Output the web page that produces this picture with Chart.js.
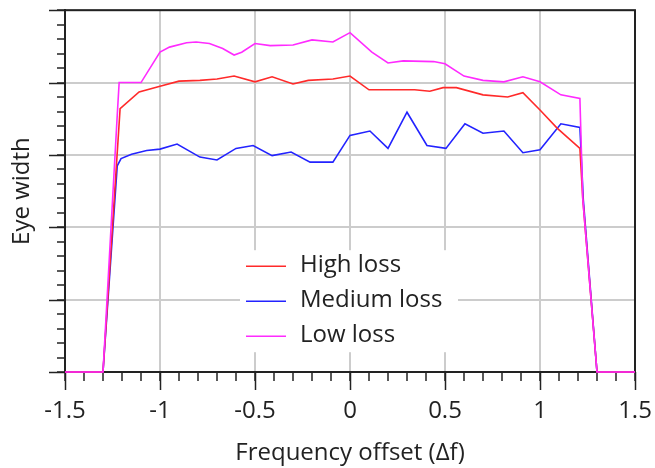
<!DOCTYPE html>
<html>
<head>
<meta charset="utf-8">
<script src="https://cdn.jsdelivr.net/npm/chart.js@4.4.1/dist/chart.umd.min.js"></script>
<style>
	body { margin: 0; background: #fff; }
	#wrap { width: 655px; height: 468px; }
</style>
</head>
<body>
<div id="wrap"><canvas id="eyeChart" width="655" height="468"></canvas></div>
<script>
// values (x = frequency offset, y = eye width, unlabelled units)
const xHigh = [-1.5, -1.3, -1.21, -1.11, -1.0, -0.9, -0.79, -0.7, -0.61, -0.5, -0.41, -0.3, -0.22, -0.09, 0, 0.1, 0.34, 0.42, 0.49, 0.56, 0.7, 0.83, 0.91, 1.0, 1.09, 1.21, 1.225, 1.3, 1.5];
const yHigh = [0, 0, 3.64, 3.87, 3.95, 4.02, 4.03, 4.05, 4.09, 4.01, 4.08, 3.98, 4.03, 4.05, 4.09, 3.9, 3.9, 3.88, 3.93, 3.93, 3.83, 3.8, 3.86, 3.62, 3.37, 3.09, 2.4, 0, 0];

const xMedium = [-1.5, -1.3, -1.225, -1.205, -1.15, -1.07, -1.0, -0.91, -0.79, -0.7, -0.6, -0.51, -0.41, -0.31, -0.21, -0.09, 0, 0.105, 0.2, 0.3, 0.405, 0.505, 0.605, 0.7, 0.81, 0.91, 1.0, 1.11, 1.21, 1.228, 1.3, 1.5];
const yMedium = [0, 0, 2.85, 2.95, 3.01, 3.06, 3.08, 3.15, 2.97, 2.93, 3.09, 3.13, 2.99, 3.04, 2.9, 2.9, 3.27, 3.33, 3.09, 3.59, 3.13, 3.09, 3.43, 3.3, 3.33, 3.03, 3.07, 3.43, 3.38, 2.38, 0, 0];

const xLow = [-1.5, -1.3, -1.225, -1.215, -1.1, -1.0, -0.95, -0.86, -0.81, -0.74, -0.67, -0.61, -0.57, -0.5, -0.42, -0.3, -0.2, -0.09, 0, 0.115, 0.2, 0.28, 0.44, 0.5, 0.6, 0.7, 0.81, 0.91, 1.0, 1.11, 1.21, 1.225, 1.3, 1.5];
const yLow = [0, 0, 3.55, 4.0, 4.0, 4.42, 4.49, 4.55, 4.56, 4.54, 4.47, 4.38, 4.42, 4.54, 4.51, 4.52, 4.59, 4.56, 4.69, 4.42, 4.27, 4.3, 4.29, 4.26, 4.09, 4.03, 4.01, 4.08, 4.01, 3.83, 3.78, 2.4, 0, 0];

const seriesLabels = ['High loss', 'Medium loss', 'Low loss'];
const seriesColors = ['#ff2a2a', '#2323ff', '#ff2bff'];

const xTickStep = 0.1;
const yTickStep = 0.2;

const toPoints = (xs, ys) => xs.map((x, i) => ({ x: x, y: ys[i] }));

const isMajorX = (v) => Math.abs(v * 2 - Math.round(v * 2)) < 1e-6;
const isMajorY = (v) => Math.abs(v - Math.round(v)) < 1e-6;

Chart.defaults.font.family = "'Open Sans', sans-serif";
Chart.defaults.color = '#222';

// long tick marks on the major values + the dark frame round the plot
// (drawn before the lines so the flat zero parts stay on top of the axis)
const framePlugin = {
	id: 'frame',
	beforeDatasetsDraw(chart) {
		const { ctx, chartArea, scales } = chart;
		ctx.save();
		ctx.strokeStyle = '#222';
		ctx.lineWidth = 1.5;
		scales.x.ticks.forEach((t) => {
			if (!isMajorX(t.value)) return;
			const px = Math.round(scales.x.getPixelForValue(t.value)) + 0.5;
			ctx.beginPath();
			ctx.moveTo(px, chartArea.bottom);
			ctx.lineTo(px, chartArea.bottom + 18);
			ctx.stroke();
		});
		scales.y.ticks.forEach((t) => {
			if (!isMajorY(t.value)) return;
			const py = Math.round(scales.y.getPixelForValue(t.value)) + 0.5;
			ctx.beginPath();
			ctx.moveTo(chartArea.left - 16, py);
			ctx.lineTo(chartArea.left, py);
			ctx.stroke();
		});
		ctx.lineWidth = 2;
		ctx.strokeRect(chartArea.left, chartArea.top, chartArea.right - chartArea.left, chartArea.bottom - chartArea.top);
		ctx.restore();
	},
};

// legend box inside the plot, over the grid
const innerLegend = {
	id: 'innerLegend',
	beforeDatasetsDraw(chart) {
		const { ctx, chartArea } = chart;
		const left = chartArea.left + 175;
		const top = chartArea.top + 240;
		ctx.save();
		ctx.fillStyle = '#fff';
		ctx.fillRect(left, top, 218, 102);
		ctx.font = "24px 'Open Sans', sans-serif";
		ctx.textBaseline = 'middle';
		chart.data.datasets.forEach((ds, i) => {
			const y = top + 16 + i * 35;
			ctx.strokeStyle = ds.borderColor;
			ctx.lineWidth = 1.5;
			ctx.beginPath();
			ctx.moveTo(left + 6, y);
			ctx.lineTo(left + 46, y);
			ctx.stroke();
			ctx.fillStyle = '#222';
			ctx.fillText(ds.label, left + 60, y - 1);
		});
		ctx.restore();
	},
};

const canvas = document.querySelector('#eyeChart');
const eyeChart = new Chart(canvas, {
	type: 'line',
	data: {
		datasets: [
			{ label: seriesLabels[0], data: toPoints(xHigh, yHigh), borderColor: seriesColors[0], order: 1, clip: 4 },
			{ label: seriesLabels[1], data: toPoints(xMedium, yMedium), borderColor: seriesColors[1], order: 2, clip: 4 },
			{ label: seriesLabels[2], data: toPoints(xLow, yLow), borderColor: seriesColors[2], order: 0, clip: 4 },
		],
	},
	options: {
		responsive: false,
		animation: false,
		layout: { padding: { top: 10, right: 20, left: 0, bottom: 0 } },
		elements: {
			line: { borderWidth: 1.6, tension: 0, fill: false },
			point: { radius: 0 },
		},
		plugins: {
			legend: { display: false },
			tooltip: { enabled: false },
		},
		scales: {
			x: {
				type: 'linear',
				min: -1.5,
				max: 1.5,
				afterFit: (scale) => {
					scale.height = 96;
					scale.paddingLeft = 0;
					scale.paddingRight = 0;
				},
				ticks: {
					stepSize: xTickStep,
					autoSkip: false,
					maxRotation: 0,
					padding: 16,
					font: { size: 24 },
					color: '#222',
					callback: (v) => (isMajorX(v) ? String(Math.round(v * 2) / 2) : ''),
				},
				grid: {
					color: (c) => (c.tick && isMajorX(c.tick.value) ? '#cccccc' : 'rgba(0,0,0,0)'),
					lineWidth: 2,
					tickColor: '#222',
					tickWidth: 1.5,
					tickLength: 9,
				},
				border: { color: '#222', width: 2 },
				title: {
					display: true,
					text: 'Frequency offset (Δf)',
					font: { size: 24 },
					color: '#222',
					padding: { top: 0, bottom: 0 },
				},
			},
			y: {
				min: 0,
				max: 5,
				afterFit: (scale) => { scale.width = 65; },
				ticks: {
					stepSize: yTickStep,
					autoSkip: false,
					callback: () => '',
				},
				grid: {
					color: (c) => (c.tick && isMajorY(c.tick.value) ? '#cccccc' : 'rgba(0,0,0,0)'),
					lineWidth: 2,
					tickColor: '#222',
					tickWidth: 1.5,
					tickLength: 8,
				},
				border: { color: '#222', width: 2 },
				title: {
					display: true,
					text: 'Eye width',
					font: { size: 24 },
					color: '#222',
					padding: { top: 8, bottom: 0 },
				},
			},
		},
	},
	plugins: [framePlugin, innerLegend],
});
</script>
</body>
</html>
